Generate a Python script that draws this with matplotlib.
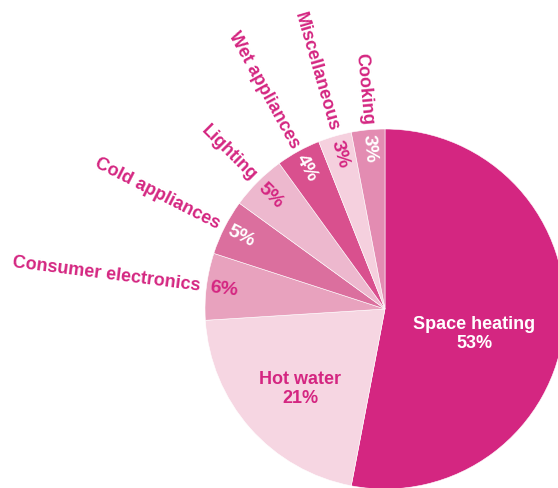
import numpy as np
import matplotlib
matplotlib.use("Agg")
import matplotlib.pyplot as plt

# household energy use by end use, percent
categories = ["Space heating", "Hot water", "Consumer electronics", "Cold appliances",
              "Lighting", "Wet appliances", "Miscellaneous", "Cooking"]
shares = [53, 21, 6, 5, 5, 4, 3, 3]
colours = ["#D42681", "#F6D6E2", "#E8A2BE", "#DB6F9E",
           "#EDB8CE", "#D9508E", "#F5D0DE", "#E38CB2"]
pct_colours = ["white", "#D42681", "#D42681", "white",
               "#D42681", "white", "#D42681", "white"]
magenta = "#D42681"

plt.rcParams['font.family'] = ['Liberation Sans', 'DejaVu Sans']

fig = plt.figure(figsize=(5.58, 4.89), dpi=100)
ax = fig.add_axes([0, 0, 1, 1])

cx, cy, R = 385, 489 - 310, 180
wedges, _ = ax.pie(shares, colors=colours, startangle=90, counterclock=False,
                   center=(cx, cy), radius=R, frame=True,
                   wedgeprops=dict(linewidth=0.4, edgecolor="white"))
ax.set_xlim(0, 558)
ax.set_ylim(0, 489)
ax.set_aspect("equal")
ax.axis("off")

# big slices get centred labels
ax.text(474, 489 - 334, "Space heating\n53%", color="white", fontsize=13,
        fontweight="bold", ha="center", va="center", linespacing=1.2)
ax.text(300, 489 - 389, "Hot water\n21%", color=magenta, fontsize=13,
        fontweight="bold", ha="center", va="center", linespacing=1.2)

# small slices: radial labels outside, percentages near the rim
for w, name, val, pc in list(zip(wedges, categories, shares, pct_colours))[2:]:
    mid = np.deg2rad((w.theta1 + w.theta2) / 2)
    rot = np.rad2deg(mid) - 180
    ox, oy = cx + 186 * np.cos(mid), cy + 186 * np.sin(mid)
    ax.text(ox, oy, name, color=magenta, fontsize=13, fontweight="bold",
            rotation=rot, rotation_mode="anchor", ha="right", va="center")
    px, py = cx + 162 * np.cos(mid), cy + 162 * np.sin(mid)
    ax.text(px, py, f"{val}%", color=pc, fontsize=14, fontweight="bold",
            rotation=rot, rotation_mode="anchor", ha="center", va="center")

fig.savefig("out.png", dpi=100)
